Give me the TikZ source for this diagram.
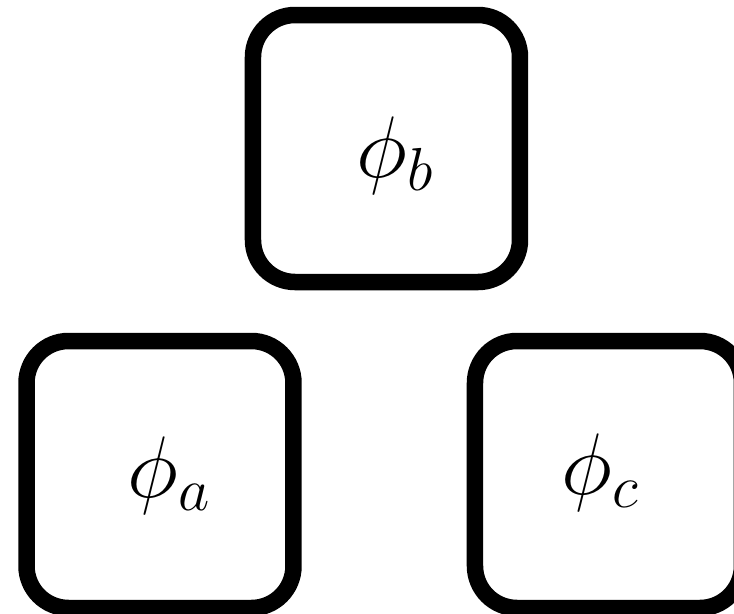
\documentclass[tikz,border=0pt]{standalone}
\usepackage{amsmath,amssymb}

\begin{document}
\begin{tikzpicture}[x=0.1mm, y=0.1mm,
	every node/.style={font=\fontsize{27}{31}\selectfont},
	factor/.style={draw, line width=1.65mm, rounded corners=4.2mm, minimum size=26.7mm, inner sep=0pt}]
	\useasboundingbox (0,0) rectangle (734,613);
	\node[factor] (phib) at (386.5,464.5) {};
	\node[factor] (phia) at (160,138.5) {};
	\node[factor] (phic) at (608.5,138.5) {};
	\node[inner sep=0pt] (phib-text) at ([xshift=0.9mm, yshift=-0.7mm]phib.center) {$\phi_b$};
	\node[inner sep=0pt] (phia-text) at ([xshift=0.95mm, yshift=-0.1mm]phia.center) {$\phi_a$};
	\node[inner sep=0pt] (phic-text) at ([xshift=-0.75mm, yshift=0.2mm]phic.center) {$\phi_c$};
\end{tikzpicture}
\end{document}
